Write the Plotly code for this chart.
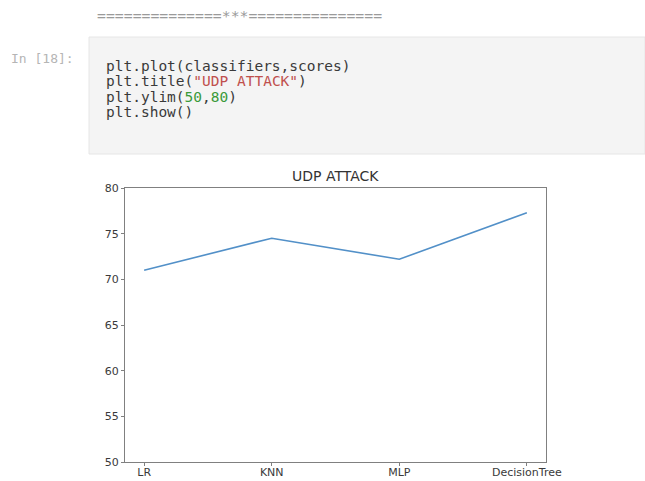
import plotly.graph_objects as go

# Data for the line plot
classifiers = ["LR", "KNN", "MLP", "DecisionTree"]
scores = [71.0, 74.5, 72.2, 77.3]
y_ticks = [50, 55, 60, 65, 70, 75, 80]

W, H = 645, 481

def px(x):
    return x / W

def py(y):
    return 1 - y / H

fig = go.Figure()
fig.add_trace(go.Scatter(
    x=classifiers, y=scores, mode="lines",
    line=dict(color="#5290c8", width=1.6),
    showlegend=False, hoverinfo="skip",
))

axis_common = dict(
    automargin=False,
    showgrid=False, zeroline=False, showline=True, mirror=True,
    linecolor="#808080", linewidth=1.2,
    ticks="outside", ticklen=3, tickcolor="#808080", tickwidth=1,
    tickfont=dict(family="DejaVu Sans", size=11, color="#3a3a3a"),
)

fig.update_layout(
    width=W, height=H, autosize=False,
    margin=dict(l=0, r=0, t=0, b=0, pad=0),
    paper_bgcolor="white", plot_bgcolor="white",
    xaxis=dict(type="category", range=[-0.15, 3.15], ticklabelstandoff=-3,
               domain=[px(125), px(546)], **axis_common),
    yaxis=dict(range=[50, 80], tickvals=y_ticks,
               domain=[py(462), py(188)], **axis_common),
)

# Title above the axes
fig.add_annotation(
    text="UDP ATTACK", xref="paper", yref="paper",
    x=px(335.5), y=py(176), xanchor="center", yanchor="middle",
    showarrow=False, font=dict(family="DejaVu Sans", size=14, color="#333333"),
)

# Notebook cell: printed separator line
mono = "DejaVu Sans Mono"
fig.add_annotation(
    text="=" * 14 + "***" + "=" * 15, xref="paper", yref="paper",
    x=px(95), y=py(15), xanchor="left", yanchor="middle",
    showarrow=False, font=dict(family=mono, size=14.8, color="#9a9a9a"),
)

# Input cell background
fig.add_shape(
    type="rect", xref="paper", yref="paper",
    x0=px(89), x1=1.0, y0=py(154), y1=py(37),
    fillcolor="#f4f4f4", line=dict(color="#e6e6e6", width=1), layer="below",
)

fig.add_annotation(
    text="In [18]:", xref="paper", yref="paper",
    x=px(9), y=py(58), xanchor="left", yanchor="middle",
    showarrow=False, font=dict(family=mono, size=13, color="#b5b5b5"),
)

code_color = "#3a3a3a"
str_color = "#c0504d"
num_color = "#3a9a3a"
code_lines = [
    "plt.plot(classifiers,scores)",
    f'plt.title(<span style="color:{str_color}">"UDP ATTACK"</span>)',
    f'plt.ylim(<span style="color:{num_color}">50</span>,<span style="color:{num_color}">80</span>)',
    "plt.show()",
]
line_y = [66, 81, 97, 112]
for txt, yy in zip(code_lines, line_y):
    fig.add_annotation(
        text=txt, xref="paper", yref="paper",
        x=px(104), y=py(yy), xanchor="left", yanchor="middle",
        showarrow=False, font=dict(family=mono, size=14.5, color=code_color),
    )

fig.write_html("out.html")
